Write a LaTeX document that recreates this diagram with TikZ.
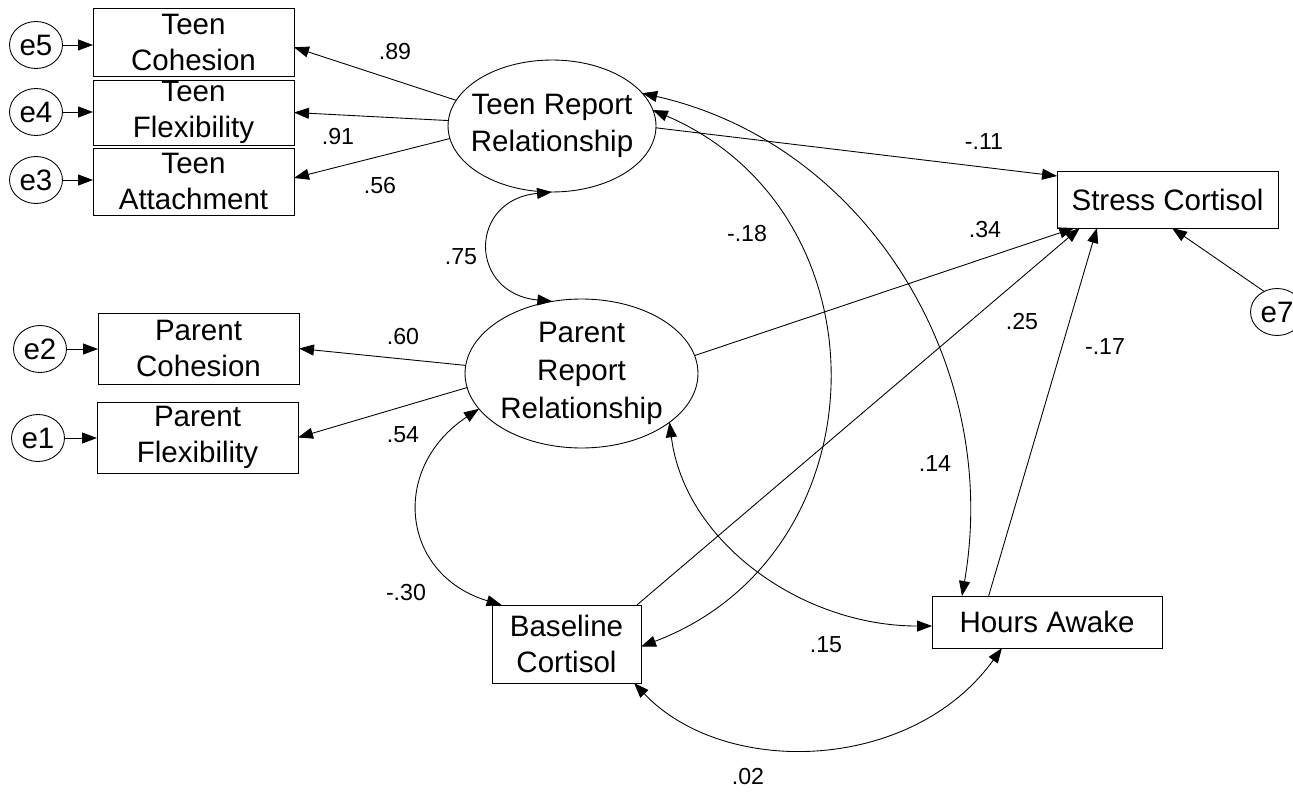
\documentclass[tikz,border=0pt]{standalone}
\usepackage{fontspec}
\setmainfont{Liberation Sans}
\usetikzlibrary{arrows.meta,shapes.geometric}
\begin{document}
\begin{tikzpicture}[x=0.02cm,y=-0.02cm,
  line width=0.5pt,
  every node/.style={inner sep=0pt, outer sep=0pt},
  obs/.style={draw, rectangle, minimum width=4.02cm, align=center,
    font=\fontsize{16.8}{20.5}\selectfont},
  lat/.style={draw, ellipse},
  latname/.style={align=center, font=\fontsize{16.8}{21.5}\selectfont},
  err/.style={draw, ellipse, minimum width=1.06cm, minimum height=0.94cm,
    font=\fontsize{16.8}{20.5}\selectfont},
  coef/.style={font=\fontsize{13.2}{15}\selectfont},
  regarrow/.style={-{Triangle[length=0.3cm,width=0.22cm]}},
  covarrow/.style={{Triangle[length=0.3cm,width=0.22cm]}-{Triangle[length=0.3cm,width=0.22cm]}},
]
\useasboundingbox (0,0) rectangle (1293,794);

% observed indicators
\node[obs, minimum height=1.36cm] (tc) at (193.5,42)    {Teen\\Cohesion};
\node[obs, minimum height=1.30cm] (tf) at (193.5,112.5) {Teen\\Flexibility};
\node[obs, minimum height=1.34cm] (ta) at (193.5,181.5) {Teen\\Attachment};
\node[obs, minimum height=1.42cm] (pc) at (198.5,348.5) {Parent\\Cohesion};
\node[obs, minimum height=1.42cm] (pf) at (197.5,437.5) {Parent\\Flexibility};
\node[obs, minimum width=4.42cm, minimum height=1.14cm] (sc) at (1167.5,199.5) {Stress Cortisol};
\node[obs, minimum width=4.60cm, minimum height=1.04cm] (ha) at (1047,622) {Hours Awake};
\node[obs, minimum width=2.98cm, minimum height=1.56cm] (bc) at (566.5,644) {Baseline\\Cortisol};

% latent factors
\node[lat, minimum width=4.16cm, minimum height=2.64cm] (tr) at (552,126) {};
\node[latname] (trname) at (tr) {Teen Report\\Relationship};
\node[lat, minimum width=4.66cm, minimum height=2.98cm] (pr) at (581.5,373.5) {};
\node[latname] (prname) at (pr) {Parent\\Report\\Relationship};

% error terms
\node[err] (e5) at (36,45)    {e5};
\node[err] (e4) at (36,112)   {e4};
\node[err] (e3) at (36,180)   {e3};
\node[err] (e2) at (40,349)   {e2};
\node[err] (e1) at (38,438)   {e1};
\node[err] (e7) at (1277,312) {e7};

% error paths
\draw[regarrow] (e5) -- (e5 -| tc.west);
\draw[regarrow] (e4) -- (e4 -| tf.west);
\draw[regarrow] (e3) -- (e3 -| ta.west);
\draw[regarrow] (e2) -- (e2 -| pc.west);
\draw[regarrow] (e1) -- (e1 -| pf.west);
\draw[regarrow] (e7.122) -- (sc.-81);

% loadings
\draw[regarrow] (tr.165) -- (tc.-3);
\draw[regarrow] (tr.177) -- (tf.east);
\draw[regarrow] (tr.187) -- (ta.2);
\draw[regarrow] (pr.176.5) -- (pc.east);
\draw[regarrow] (pr.187) -- (pf.east);

% structural paths to stress cortisol
\draw[regarrow] (tr.-1) -- (sc.168);
\draw[regarrow] (pr.9) -- (sc.197);
\draw[regarrow] (bc.29) -- (sc.198.5);
\draw[regarrow] (ha.156) -- (sc.202.6);

% covariances
\draw[covarrow] (tr.south) .. controls +(-84,8) and +(-84,-8) .. (pr.112);
\draw[covarrow] (pr.199) .. controls +(-90,60) and +(-100,-30) .. (bc.149);
\draw[covarrow] (tr.9) .. controls +(239,103) and +(243,-92) .. (bc.-2);
\draw[covarrow] (tr.20) .. controls +(225,51) and +(40,-230) .. (ha.163);
\draw[covarrow] (pr.-29) .. controls +(15,120) and +(-130,0) .. (ha.182);
\draw[covarrow] (bc.-30) .. controls +(90,95) and +(-90,125) .. (ha.210);

% coefficients
\node[coef] (c89) at (395,52)   {.89};
\node[coef] (c91) at (338,137)  {.91};
\node[coef] (c56) at (380,186)  {.56};
\node[coef] (c11) at (984,142)  {-.11};
\node[coef] (c34) at (985,230)  {.34};
\node[coef] (c18) at (747,234)  {-.18};
\node[coef] (c75) at (461,257)  {.75};
\node[coef] (c60) at (403,337)  {.60};
\node[coef] (c54) at (403,435)  {.54};
\node[coef] (c25) at (1022,322) {.25};
\node[coef] (c17) at (1105,347) {-.17};
\node[coef] (c14) at (935,464)  {.14};
\node[coef] (c30) at (406,593)  {-.30};
\node[coef] (c15) at (826,645)  {.15};
\node[coef] (c02) at (748,777)  {.02};
\end{tikzpicture}
\end{document}
